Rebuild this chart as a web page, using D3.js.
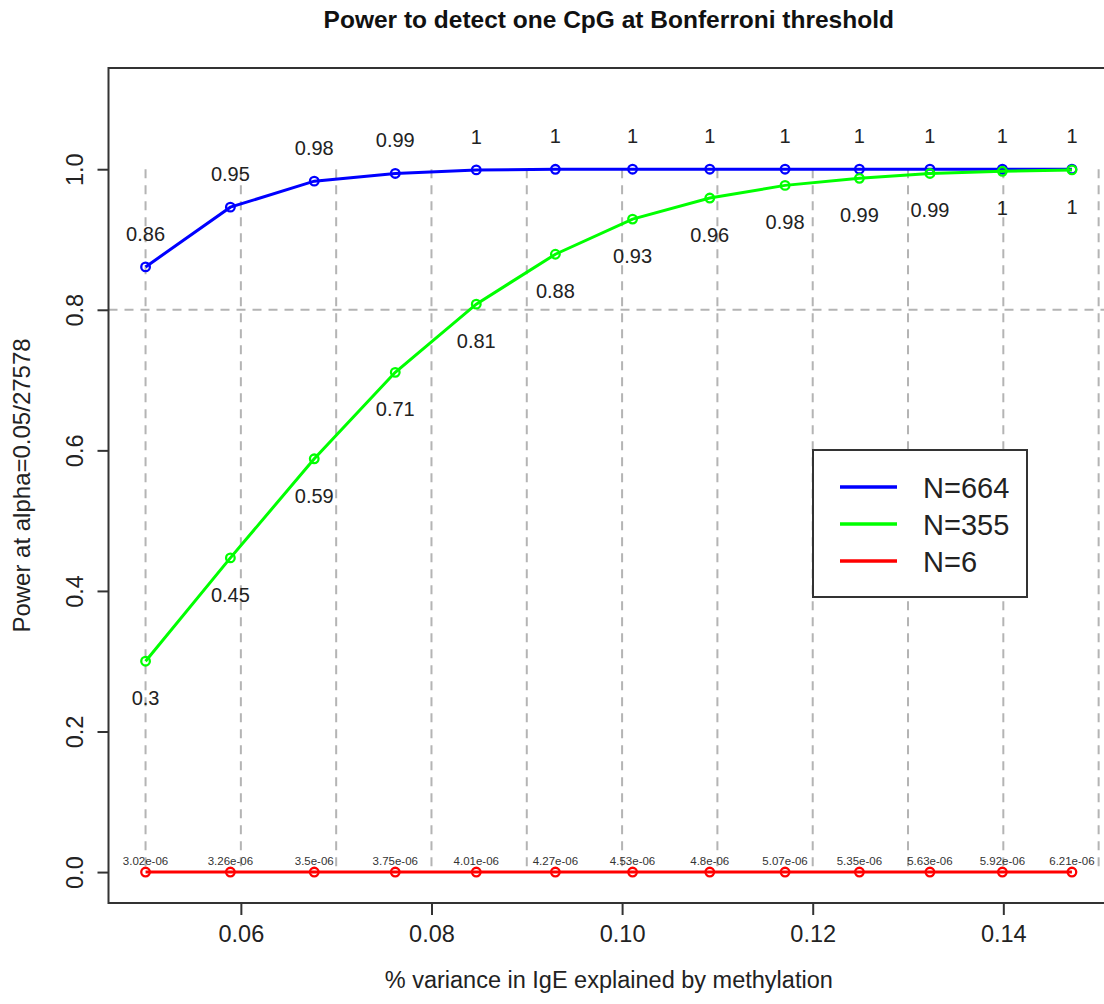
<!DOCTYPE html>
<html>
<head>
<meta charset="utf-8">
<script src="https://cdn.jsdelivr.net/npm/d3@7"></script>
<style>
  body { margin: 0; background: #fff; }
  svg { display: block; font-family: "Liberation Sans", Arial, sans-serif; }
</style>
</head>
<body>
<svg id="chart" width="1104" height="1004"></svg>
<script>
// % variance explained (x) for each of the 13 points
var variance = [0.0500, 0.0589, 0.0677, 0.0762, 0.0847, 0.0930, 0.1011, 0.1092, 0.1171, 0.1249, 0.1323, 0.1399, 0.1472];
// power for each sample size
var power664 = [0.861, 0.946, 0.983, 0.994, 0.9990, 0.9999, 1, 1, 1, 1, 1, 1, 1];
var power355 = [0.300, 0.447, 0.588, 0.711, 0.808, 0.879, 0.929, 0.959, 0.977, 0.987, 0.994, 0.997, 0.999];
var power6 = [3.02e-06, 3.26e-06, 3.5e-06, 3.75e-06, 4.01e-06, 4.27e-06, 4.53e-06, 4.8e-06, 5.07e-06, 5.35e-06, 5.63e-06, 5.92e-06, 6.21e-06];
var seriesNames = ["N=664", "N=355", "N=6"];
var seriesColors = ["#0000ff", "#00ff00", "#ff0000"];
var xTicks = [0.06, 0.08, 0.10, 0.12, 0.14];
var yTicks = [0, 0.2, 0.4, 0.6, 0.8, 1.0];
var gridX = [0.05, 0.06, 0.07, 0.08, 0.09, 0.10, 0.11, 0.12, 0.13, 0.14, 0.15];
var powerLine = 0.8;

var svg = d3.select("#chart");
var pLeft = 108.5, pRight = 1109, pTop = 68, pBottom = 903;

//R style 4% padding on the data range
var xmin = d3.min(variance), xmax = d3.max(variance), xpad = (xmax - xmin) * 0.04;
var x = d3.scaleLinear().domain([xmin - xpad, xmax + xpad]).range([pLeft, pRight]);
var y = d3.scaleLinear().domain([-0.044, 1.144]).range([pBottom, pTop]);

var grey = "#b4b4b4";
//vertical reference segments from 0 to 1
svg.append("g").selectAll("line")
  .data(gridX)
  .enter()
  .append("line")
  .attr("x1", d => x(d)).attr("x2", d => x(d))
  .attr("y1", y(1)).attr("y2", y(0))
  .attr("stroke", grey).attr("stroke-width", 2)
  .attr("stroke-dasharray", "9,7");

//horizontal line at 0.8
svg.append("line")
  .attr("x1", pLeft).attr("x2", pRight)
  .attr("y1", y(powerLine)).attr("y2", y(powerLine))
  .attr("stroke", grey).attr("stroke-width", 2)
  .attr("stroke-dasharray", "9,7");

//axes
var xAxis = svg.append("g")
  .attr("transform", "translate(0," + pBottom + ")")
  .call(d3.axisBottom(x).tickValues(xTicks).tickSize(12).tickPadding(10).tickFormat(d3.format(".2f")));
xAxis.select(".domain").remove();
xAxis.selectAll("line").attr("stroke", "#333").attr("stroke-width", 2);
xAxis.selectAll("text").attr("font-size", 23.5).attr("fill", "#222").attr("font-family", null);
xAxis.attr("font-family", null).attr("font-size", null);

var yAxis = svg.append("g")
  .attr("transform", "translate(" + pLeft + ",0)")
  .call(d3.axisLeft(y).tickValues(yTicks).tickSize(11).tickFormat(d3.format(".1f")));
yAxis.select(".domain").remove();
yAxis.attr("font-family", null).attr("font-size", null);
yAxis.selectAll("line").attr("stroke", "#333").attr("stroke-width", 2);
yAxis.selectAll("text")
  .attr("font-size", 23.5).attr("fill", "#222")
  .attr("x", null).attr("dy", null)
  .attr("text-anchor", "middle")
  .attr("transform", "translate(-26,0) rotate(-90)");

//plot box
svg.append("rect")
  .attr("x", pLeft).attr("y", pTop)
  .attr("width", pRight - pLeft).attr("height", pBottom - pTop)
  .attr("fill", "none").attr("stroke", "#333").attr("stroke-width", 2);

var series = [power664, power355, power6];
var line = d3.line().x((d, i) => x(variance[i])).y(d => y(d));

series.forEach(function (vals, s) {
  var g = svg.append("g");
  g.append("path")
    .attr("d", line(vals))
    .attr("fill", "none")
    .attr("stroke", seriesColors[s])
    .attr("stroke-width", 3);
  g.selectAll("circle")
    .data(vals)
    .enter()
    .append("circle")
    .attr("cx", (d, i) => x(variance[i]))
    .attr("cy", d => y(d))
    .attr("r", 4.3)
    .attr("fill", "none")
    .attr("stroke", seriesColors[s])
    .attr("stroke-width", 2.3);
});

//value labels
var fmt2 = d3.format(".2~f");
function fmtSci(v) {
  return Number(v.toPrecision(3)).toExponential().replace(/e([+-])(\d)$/, "e$10$2");
}
svg.append("g").selectAll("text")
  .data(power664)
  .enter()
  .append("text")
  .attr("x", (d, i) => x(variance[i]))
  .attr("y", d => y(d) - 26)
  .attr("text-anchor", "middle")
  .attr("font-size", 20).attr("fill", "#222")
  .text(d => fmt2(d));

svg.append("g").selectAll("text")
  .data(power355)
  .enter()
  .append("text")
  .attr("x", (d, i) => x(variance[i]))
  .attr("y", d => y(d) + 44)
  .attr("text-anchor", "middle")
  .attr("font-size", 20).attr("fill", "#222")
  .text(d => fmt2(d));

svg.append("g").selectAll("text")
  .data(power6)
  .enter()
  .append("text")
  .attr("x", (d, i) => x(variance[i]))
  .attr("y", d => y(d) - 7)
  .attr("text-anchor", "middle")
  .attr("font-size", 11.5).attr("fill", "#333")
  .text(d => fmtSci(d));

//titles
svg.append("text")
  .attr("x", (pLeft + pRight) / 2).attr("y", 28)
  .attr("text-anchor", "middle")
  .attr("font-size", 24.5).attr("font-weight", "bold").attr("fill", "#111")
  .text("Power to detect one CpG at Bonferroni threshold");

svg.append("text")
  .attr("x", (pLeft + pRight) / 2).attr("y", 988)
  .attr("text-anchor", "middle")
  .attr("font-size", 23.5).attr("fill", "#222")
  .text("% variance in IgE explained by methylation");

svg.append("text")
  .attr("transform", "translate(30," + (pTop + pBottom) / 2 + ") rotate(-90)")
  .attr("text-anchor", "middle")
  .attr("font-size", 24).attr("fill", "#222")
  .text("Power at alpha=0.05/27578");

//legend
var lg = svg.append("g").attr("transform", "translate(813,450)");
lg.append("rect")
  .attr("width", 214).attr("height", 147)
  .attr("fill", "#fff").attr("stroke", "#333").attr("stroke-width", 2);
var items = lg.selectAll("g.item")
  .data(seriesNames)
  .enter()
  .append("g")
  .attr("class", "item")
  .attr("transform", (d, i) => "translate(0," + (37 + i * 37) + ")");
items.append("line")
  .attr("x1", 27).attr("x2", 84)
  .attr("stroke", (d, i) => seriesColors[i])
  .attr("stroke-width", 3.5);
items.append("text")
  .attr("x", 110).attr("y", 11)
  .attr("font-size", 29).attr("fill", "#222")
  .text(d => d);
</script>
</body>
</html>
